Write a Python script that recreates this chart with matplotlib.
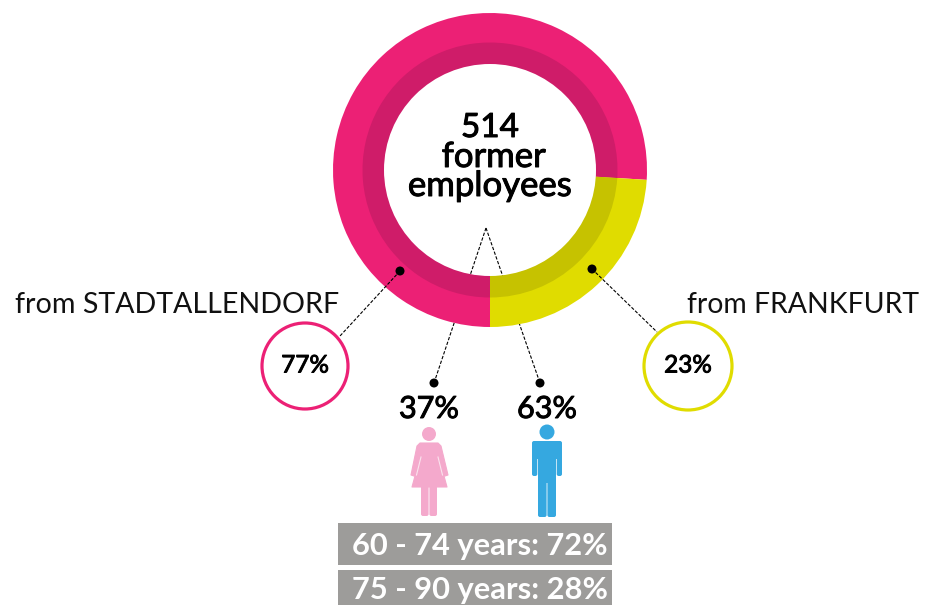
import matplotlib
matplotlib.use("Agg")
import matplotlib.pyplot as plt
import matplotlib.patheffects as pe
from matplotlib.patches import Circle, Polygon, FancyBboxPatch, Rectangle

plt.rcParams['font.family'] = ['Lato', 'DejaVu Sans']

W, H = 927, 605

origin_labels = ["from STADTALLENDORF", "from FRANKFURT"]
origin_pct = [77, 23]
# the yellow slice is drawn a little wider than its label says
ring_shares = [76, 24]
ring_colors = ['#ec2075', '#e0dc00']
band_colors = ['#cf1c69', '#c6c200']

gender_pct = [37, 63]
gender_colors = ['#f4a9cc', '#35a8e0']

age_labels = ["60 - 74 years", "75 - 90 years"]
age_pct = [72, 28]

total = 514


def py(y):
    # picture y (from the top) to axes y
    return H - y


fig = plt.figure(figsize=(W / 100, H / 100), dpi=100)
ax = fig.add_axes([0, 0, 1, 1])

cx, cy = 490, py(170)

# ring, outer part then darker band, white hole on top
ax.pie(ring_shares, colors=ring_colors, startangle=-90, counterclock=False,
       center=(cx, cy), radius=157, frame=True)
ax.pie(ring_shares, colors=band_colors, startangle=-90, counterclock=False,
       center=(cx, cy), radius=127.5, frame=True)
hole = Circle((cx, cy), 106, fc='white', ec='none', zorder=3)
ax.add_patch(hole)

ax.set_xlim(0, W)
ax.set_ylim(0, H)
ax.set_aspect('equal')
ax.axis('off')

# regular weight with a thin stroke, the reference is between regular and bold
medium = [pe.withStroke(linewidth=0.7, foreground='black')]

ax.text(cx, py(128), str(total), ha='center', va='center', fontsize=24, color='black', zorder=5, path_effects=medium)
ax.text(cx + 4, py(157), "former", ha='center', va='center', fontsize=25, color='black', zorder=5, path_effects=medium)
ax.text(cx, py(186), "employees", ha='center', va='center', fontsize=25, color='black', zorder=5, path_effects=medium)

# leader lines, hidden behind the ring but visible inside the hole
leader = dict(color='black', lw=0.8, ls=(0, (3, 1.5)))
ax.plot([486, 434], [py(228), py(383)], zorder=0.5, **leader)
ax.plot([486, 540], [py(228), py(383)], zorder=0.5, **leader)
for end_x in (434, 540):
    inner, = ax.plot([486, end_x], [py(228), py(383)], zorder=4, **leader)
    inner.set_clip_path(hole)
ax.plot([400, 340], [py(271), py(336)], zorder=4, **leader)
ax.plot([592, 657], [py(269), py(332)], zorder=4, **leader)
for dx, dy in [(400, 271), (592, 269), (434, 383), (540, 383)]:
    ax.add_patch(Circle((dx, py(dy)), 4.5, fc='black', ec='none', zorder=5))

# origin bubbles
ax.add_patch(Circle((305, py(366)), 43, fc='white', ec=ring_colors[0], lw=2.3, zorder=5))
ax.add_patch(Circle((688, py(366)), 44, fc='white', ec=ring_colors[1], lw=2.3, zorder=5))
ax.text(305, py(366), f"{origin_pct[0]}%", ha='center', va='center', fontsize=17.5, zorder=6, path_effects=medium)
ax.text(688, py(366), f"{origin_pct[1]}%", ha='center', va='center', fontsize=17.5, zorder=6, path_effects=medium)
ax.text(15, py(305), origin_labels[0], ha='left', va='center', fontsize=20.6, color='#111111')
ax.text(919, py(305), origin_labels[1], ha='right', va='center', fontsize=20.4, color='#111111')

ax.text(429, py(409), f"{gender_pct[0]}%", ha='center', va='center', fontsize=22, path_effects=medium)
ax.text(547, py(409), f"{gender_pct[1]}%", ha='center', va='center', fontsize=22, path_effects=medium)


def shape(points, color, z=3):
    ax.add_patch(Polygon([(x, py(y)) for x, y in points], closed=True, fc=color, ec=color, lw=0.8, joinstyle='round', zorder=z))


def box(x0, y0, x1, y1, color, rad=2):
    ax.add_patch(FancyBboxPatch((x0 + rad, py(y1) + rad), x1 - x0 - 2 * rad, y1 - y0 - 2 * rad,
                                boxstyle=f"round,pad={rad},rounding_size={rad}", fc=color, ec='none', zorder=3))


# woman icon
c = gender_colors[0]
ax.add_patch(Circle((429, py(434)), 7, fc=c, ec='none', zorder=3))
shape([(420, 443), (438, 443), (441, 446), (448, 475), (445, 476), (444, 476), (447, 487),
       (412, 487), (415, 476), (414, 476), (411, 475), (417, 446)], c)
ax.plot([421, 416.5], [py(457), py(475)], color='#fbe3ee', lw=0.8, zorder=4)
ax.plot([438, 442.5], [py(457), py(475)], color='#fbe3ee', lw=0.8, zorder=4)
box(421, 484, 428.6, 516, c)
box(429.4, 484, 437, 516, c)

# man icon
c = gender_colors[1]
ax.add_patch(Circle((547, py(432)), 7.5, fc=c, ec='none', zorder=3))
box(532, 441, 537.3, 476, c)
box(556.7, 441, 562, 476, c)
box(534, 441, 560, 459, c)
box(538, 450, 556, 483, c)
box(538, 475, 546.6, 517, c)
box(547.4, 475, 556, 517, c)

# age boxes
for i, (y0, y1, ty) in enumerate([(523, 565, 546), (570, 605, 590)]):
    ax.add_patch(Rectangle((338, py(y1)), 274, y1 - y0, fc='#9d9c9a', ec='none'))
    ax.text(480, py(ty), f"{age_labels[i]}: {age_pct[i]}%", ha='center', va='center', fontsize=22.2, fontweight='bold', color='white')

fig.savefig("out.png", dpi=100)
